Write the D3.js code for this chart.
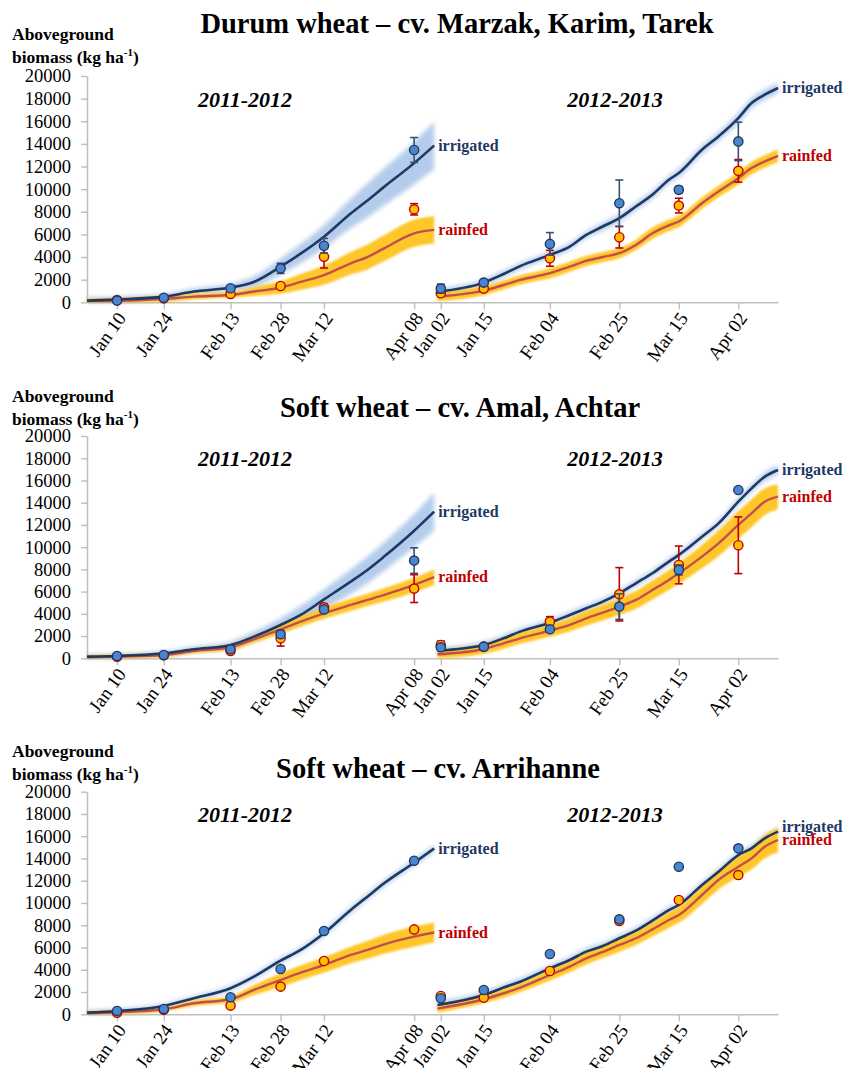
<!DOCTYPE html>
<html>
<head>
<meta charset="utf-8">
<script src="https://cdn.jsdelivr.net/npm/d3@7"></script>
<style>
  body { margin: 0; background: #fff; }
  text { font-family: "Liberation Serif", "Times New Roman", serif; }
</style>
</head>
<body>
<svg id="chart"></svg>
<script>
// ---- data ----
let titles = ["Durum wheat \u2013 cv. Marzak, Karim, Tarek", "Soft wheat \u2013 cv. Amal, Achtar", "Soft wheat \u2013 cv. Arrihanne"];
let seasons = ["2011-2012", "2012-2013"];
let yTicks = [0, 2000, 4000, 6000, 8000, 10000, 12000, 14000, 16000, 18000, 20000];

// simulation sample dates
let simDates1 = ["2012-01-01","2012-01-10","2012-01-24","2012-02-02","2012-02-13","2012-02-20","2012-02-28","2012-03-05","2012-03-12","2012-03-20","2012-03-25","2012-03-30","2012-04-08","2012-04-14"];
let simDates2 = ["2013-01-01","2013-01-15","2013-01-21","2013-01-26","2013-02-04","2013-02-10","2013-02-15","2013-02-20","2013-02-25","2013-03-02","2013-03-07","2013-03-12","2013-03-15","2013-03-22","2013-03-27","2013-04-02","2013-04-06","2013-04-10","2013-04-14"];
// sampling dates (also x tick labels)
let obsDates1 = ["2012-01-10","2012-01-24","2012-02-13","2012-02-28","2012-03-12","2012-04-08"];
let obsDates2 = ["2013-01-02","2013-01-15","2013-02-04","2013-02-25","2013-03-15","2013-04-02"];

// Durum wheat
let durumIrr1 = [150,250,500,950,1300,1800,3150,4300,5800,7850,9000,10200,12300,13850];
let durumIrrBand1 = [250,250,250,300,350,500,700,850,1000,1300,1500,1650,1900,2100];
let durumRain1 = [100,120,300,500,650,950,1300,1800,2400,3450,4000,4770,6100,6400];
let durumRainBand1 = [250,250,250,250,250,400,550,700,850,1000,1100,1150,1200,1200];
let durumIrr2 = [940,1740,2500,3200,4190,4930,5960,6700,7430,8470,9500,10830,11420,13480,14660,16280,17610,18350,18940];
let durumIrrBand2 = [300,300,300,300,300,300,300,350,350,350,350,350,400,400,400,450,450,450,450];
let durumRain2 = [500,1030,1530,1980,2570,3160,3660,4000,4340,5070,6100,6800,7140,8760,9790,10970,11860,12450,12950];
let durumRainBand2 = [400,400,400,400,450,450,450,450,450,450,500,500,500,500,500,550,550,550,550];
let durumObsIrr1 = [150,400,1240,3000,5000,13460];
let durumObsIrrSd1 = [0,0,200,450,650,1100];
let durumObsRain1 = [200,350,740,1440,4030,8220];
let durumObsRainSd1 = [0,0,0,0,1000,500];
let durumObsIrr2 = [1210,1740,5160,8760,9940,14220];
let durumObsIrrSd2 = [400,200,1000,2050,300,1700];
let durumObsRain2 = [800,1210,3890,5750,8550,11620];
let durumObsRainSd2 = [0,0,700,950,650,1000];

// Soft wheat Amal, Achtar
let amalIrr1 = [150,210,450,810,1200,1950,3000,3900,5300,6900,7950,9150,11480,13200];
let amalIrrBand1 = [200,200,200,250,300,450,600,800,900,1100,1200,1300,1500,1700];
let amalRain1 = [90,150,300,650,990,1710,2600,3300,4050,4800,5250,5700,6600,7300];
let amalRainBand1 = [200,200,200,200,250,300,400,450,500,550,550,600,650,700];
let amalIrr2 = [690,1200,1800,2400,3200,3900,4500,5100,5850,6750,7650,8700,9300,10940,12140,14090,15290,16340,16940];
let amalIrrBand2 = [300,300,300,300,300,300,300,300,300,300,300,300,300,300,300,350,350,400,400];
let amalRain2 = [360,840,1350,1800,2490,3000,3600,4100,4650,5250,6150,7050,7650,9150,10340,12000,13040,14090,14540];
let amalRainBand2 = [450,450,500,500,550,600,650,700,750,800,850,900,950,1050,1150,1250,1250,1200,1100];
let amalObsIrr1 = [210,300,810,2160,4400,8790];
let amalObsIrrSd1 = [0,0,0,0,0,1150];
let amalObsRain1 = [150,280,660,1800,4590,6270];
let amalObsRainSd1 = [0,0,0,700,300,1250];
let amalObsIrr2 = [990,1050,2610,4650,7950,15140];
let amalObsIrrSd2 = [0,0,0,1150,450,0];
let amalObsRain2 = [1200,1050,3300,5760,8400,10170];
let amalObsRainSd2 = [350,0,450,2400,1700,2550];

// Soft wheat Arrihanne
let arriIrr1 = [150,300,750,1440,2340,3380,4820,5780,7280,9370,10570,11770,13620,14900];
let arriIrrBand1 = [200,200,200,200,250,250,250,250,300,300,300,300,300,300];
let arriRain1 = [90,180,450,990,1350,2190,3080,3740,4430,5330,5780,6290,6980,7350];
let arriRainBand1 = [200,200,200,250,300,450,600,650,700,750,800,850,900,900];
let arriIrr2 = [840,1740,2400,2930,4130,4880,5630,6140,6830,7510,8410,9370,9820,11620,12810,14310,14910,15810,16410];
let arriIrrBand2 = [300,300,300,300,300,300,300,300,300,300,300,300,300,300,300,300,300,300,300];
let arriRain2 = [510,1350,1890,2400,3530,4280,5030,5600,6230,6830,7630,8470,8920,10720,12070,13260,14010,15060,15660];
let arriRainBand2 = [350,350,400,400,500,500,550,550,600,600,650,700,700,800,850,900,1000,1050,1100];
let arriObsIrr1 = [300,480,1530,4070,7490,13800];
let arriObsRain1 = [150,400,780,2490,4790,7630];
let arriObsIrr2 = [1440,2190,5420,8530,13260,14910];
let arriObsRain2 = [1650,1500,3890,8380,10270,12510];

// ---- layout ----
let width = 847;
let height = 1068;
let xLeft = 87;
let xBreak = 437.5;
let xRight = 778;

let layout = [
  { top: 76, bottom: 302.3, titleX: 457, titleY: 33, labY: 40, yearY: 107 },
  { top: 436, bottom: 658.3, titleX: 460, titleY: 417, labY: 402, yearY: 466 },
  { top: 791.7, bottom: 1014.3, titleX: 438, titleY: 778, labY: 757, yearY: 822 }
];

let panels = [
  { s1: [durumIrr1, durumIrrBand1, durumRain1, durumRainBand1, durumObsIrr1, durumObsIrrSd1, durumObsRain1, durumObsRainSd1],
    s2: [durumIrr2, durumIrrBand2, durumRain2, durumRainBand2, durumObsIrr2, durumObsIrrSd2, durumObsRain2, durumObsRainSd2] },
  { s1: [amalIrr1, amalIrrBand1, amalRain1, amalRainBand1, amalObsIrr1, amalObsIrrSd1, amalObsRain1, amalObsRainSd1],
    s2: [amalIrr2, amalIrrBand2, amalRain2, amalRainBand2, amalObsIrr2, amalObsIrrSd2, amalObsRain2, amalObsRainSd2] },
  { s1: [arriIrr1, arriIrrBand1, arriRain1, arriRainBand1, arriObsIrr1, null, arriObsRain1, null],
    s2: [arriIrr2, arriIrrBand2, arriRain2, arriRainBand2, arriObsIrr2, null, arriObsRain2, null] }
];

let irrColor = "#1f3864";
let irrBandColor = "#a7c4e8";
let irrPoint = "#4a86d0";
let irrErr = "#3a5072";
let rainColor = "#c0504d";
let rainBandColor = "#ffc62a";
let rainPoint = "#ffc000";
let rainErr = "#c00000";
let axisColor = "#bfbfbf";
let serif = "'Liberation Serif', 'Times New Roman', serif";

let parse = d3.timeParse("%Y-%m-%d");

let svg = d3.select("#chart").attr("width", width).attr("height", height);
svg.append("rect").attr("width", width).attr("height", height).attr("fill", "#fff");

let defs = svg.append("defs");
defs.append("filter").attr("id", "blurB")
  .attr("x", "-20%").attr("y", "-20%").attr("width", "140%").attr("height", "140%")
  .append("feGaussianBlur").attr("stdDeviation", 2.2);
defs.append("filter").attr("id", "blurY")
  .attr("x", "-20%").attr("y", "-20%").attr("width", "140%").attr("height", "140%")
  .append("feGaussianBlur").attr("stdDeviation", 0.8);

// one x scale for both seasons, with the gap between them collapsed
let xScale = d3.scaleTime()
  .domain([parse("2012-01-01"), parse("2012-04-15"), parse("2013-01-01"), parse("2013-04-14")])
  .range([xLeft, xBreak, xBreak, xRight]);

let tickDates = obsDates1.concat(obsDates2).map(parse);

let makeSeries = (dates, vals, spread) => {
  return dates.map((d, i) => ({ date: parse(d), v: vals[i], s: spread ? spread[i] : 0 }));
};

let drawPanel = (p, lay, k) => {
  let g = svg.append("g");
  let yScale = d3.scaleLinear().domain([0, 20000]).range([lay.bottom, lay.top]);

  // titles
  g.append("text")
    .attr("x", lay.titleX).attr("y", lay.titleY)
    .attr("text-anchor", "middle")
    .attr("font-size", 28.5).attr("font-weight", "bold")
    .text(titles[k]);
  g.append("text")
    .attr("x", 12).attr("y", lay.labY)
    .attr("font-size", 17.5).attr("font-weight", "bold")
    .text("Aboveground");
  let lab2 = g.append("text")
    .attr("x", 12).attr("y", lay.labY + 23)
    .attr("font-size", 17.5).attr("font-weight", "bold");
  lab2.append("tspan").text("biomass (kg ha");
  lab2.append("tspan").attr("font-size", 11).attr("dy", -7).text("-1");
  lab2.append("tspan").attr("dy", 7).text(")");

  g.append("text")
    .attr("x", 245).attr("y", lay.yearY)
    .attr("text-anchor", "middle")
    .attr("font-size", 22).attr("font-weight", "bold").attr("font-style", "italic")
    .text(seasons[0]);
  g.append("text")
    .attr("x", 615).attr("y", lay.yearY)
    .attr("text-anchor", "middle")
    .attr("font-size", 22).attr("font-weight", "bold").attr("font-style", "italic")
    .text(seasons[1]);

  // axes
  let yAxis = d3.axisLeft(yScale).tickValues(yTicks).tickFormat(d3.format("d"))
    .tickSize(6).tickSizeOuter(0).tickPadding(10);
  let ya = g.append("g").attr("transform", "translate(" + xLeft + ",0)").call(yAxis);
  ya.attr("font-family", serif);
  ya.selectAll("text").attr("font-size", 18.5).attr("fill", "#000");

  let xAxis = d3.axisBottom(xScale).tickValues(tickDates)
    .tickFormat(d3.timeFormat("%b %d")).tickSize(7).tickSizeOuter(0);
  let xa = g.append("g").attr("transform", "translate(0," + lay.bottom + ")").call(xAxis);
  xa.attr("font-family", serif);
  xa.selectAll("text")
    .attr("font-size", 19).attr("fill", "#000")
    .attr("text-anchor", "end")
    .attr("x", 0).attr("y", 0)
    .attr("dy", "0.35em")
    .attr("transform", "translate(4,12) rotate(-54)");
  [ya, xa].forEach((a) => {
    a.select(".domain").attr("stroke", axisColor).attr("stroke-width", 1.6);
    a.selectAll(".tick line").attr("stroke", axisColor).attr("stroke-width", 1.4);
  });

  let seasonData = [
    { dates: simDates1, obs: obsDates1, d: p.s1 },
    { dates: simDates2, obs: obsDates2, d: p.s2 }
  ];

  let area = d3.area()
    .x((d) => xScale(d.date))
    .y0((d) => yScale(Math.max(0, d.v - d.s)))
    .y1((d) => yScale(d.v + d.s))
    .curve(d3.curveMonotoneX);
  let line = d3.line()
    .x((d) => xScale(d.date))
    .y((d) => yScale(d.v))
    .curve(d3.curveMonotoneX);

  seasonData.forEach((sd) => {
    let irr = makeSeries(sd.dates, sd.d[0], sd.d[1]);
    let rain = makeSeries(sd.dates, sd.d[2], sd.d[3]);

    g.append("path").datum(irr).attr("d", area)
      .attr("fill", irrBandColor).attr("opacity", 0.85).attr("filter", "url(#blurB)");
    g.append("path").datum(rain).attr("d", area)
      .attr("fill", rainBandColor).attr("filter", "url(#blurY)");
    g.append("path").datum(rain).attr("d", line)
      .attr("fill", "none").attr("stroke", rainColor).attr("stroke-width", 2.4);
    g.append("path").datum(irr).attr("d", line)
      .attr("fill", "none").attr("stroke", irrColor).attr("stroke-width", 2.6);

    // observed points, rainfed under irrigated
    let obsSets = [
      { vals: sd.d[6], sds: sd.d[7], fill: rainPoint, stroke: rainErr, err: rainErr },
      { vals: sd.d[4], sds: sd.d[5], fill: irrPoint, stroke: irrColor, err: irrErr }
    ];
    obsSets.forEach((o) => {
      let pts = sd.obs.map((d, i) => ({ date: parse(d), v: o.vals[i], e: o.sds ? o.sds[i] : 0 }));
      let withErr = pts.filter((d) => d.e > 0);
      let eg = g.append("g").attr("stroke", o.err).attr("stroke-width", 1.6);
      eg.selectAll(".bar").data(withErr).enter().append("line")
        .attr("x1", (d) => xScale(d.date)).attr("x2", (d) => xScale(d.date))
        .attr("y1", (d) => yScale(d.v - d.e)).attr("y2", (d) => yScale(d.v + d.e));
      eg.selectAll(".capTop").data(withErr).enter().append("line")
        .attr("x1", (d) => xScale(d.date) - 4).attr("x2", (d) => xScale(d.date) + 4)
        .attr("y1", (d) => yScale(d.v + d.e)).attr("y2", (d) => yScale(d.v + d.e));
      eg.selectAll(".capBot").data(withErr).enter().append("line")
        .attr("x1", (d) => xScale(d.date) - 4).attr("x2", (d) => xScale(d.date) + 4)
        .attr("y1", (d) => yScale(d.v - d.e)).attr("y2", (d) => yScale(d.v - d.e));
      g.selectAll(null).data(pts).enter().append("circle")
        .attr("cx", (d) => xScale(d.date))
        .attr("cy", (d) => yScale(d.v))
        .attr("r", 4.6)
        .attr("fill", o.fill)
        .attr("stroke", o.stroke)
        .attr("stroke-width", 1.4);
    });

    // end labels; irrigated moves up when they would collide
    let last = sd.dates.length - 1;
    let endX = xScale(parse(sd.dates[last])) + 4;
    let yi = yScale(sd.d[0][last]);
    let yr = yScale(sd.d[2][last]);
    if (yr - yi < 13) {
      yi = yr - 13;
    }
    g.append("text").attr("x", endX).attr("y", yi).attr("dy", "0.32em")
      .attr("font-size", 16).attr("font-weight", "bold").attr("fill", irrColor)
      .text("irrigated");
    g.append("text").attr("x", endX).attr("y", yr).attr("dy", "0.32em")
      .attr("font-size", 16).attr("font-weight", "bold").attr("fill", rainErr)
      .text("rainfed");
  });
};

panels.forEach((p, k) => drawPanel(p, layout[k], k));
</script>
</body>
</html>
